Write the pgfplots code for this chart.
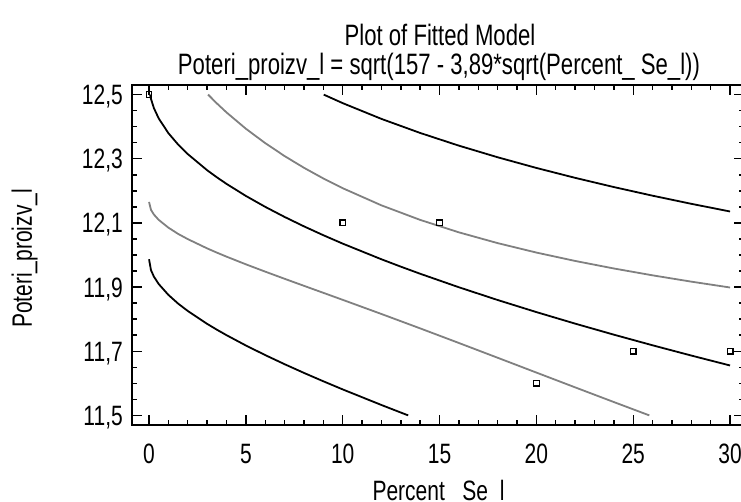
\documentclass[border=0pt]{standalone}
\usepackage{fontspec}
\setmainfont[FakeStretch=0.75]{Liberation Sans}
\usepackage{pgfplots}
\pgfplotsset{compat=1.18}
\definecolor{bandgray}{RGB}{128,128,128}
\newcommand{\lblfont}{\fontsize{28bp}{32bp}\selectfont}
\newcommand{\ttlfont}{\fontsize{29.5bp}{34bp}\selectfont}
\begin{document}
\begin{tikzpicture}
\begin{axis}[
  name=fit,
  scale only axis,
  width=612bp, height=340bp,
  xmin=-0.88, xmax=30.72, ymin=11.47, ymax=12.53,
  xtick={0,5,...,30},
  ytick={11.5,11.7,11.9,12.1,12.3,12.5},
  minor x tick num=4, minor y tick num=3,
  tick align=inside,
  major tick length=10bp, minor tick length=5bp,
  tick style={black, line width=1.4bp},
  axis line style={line width=2.2bp},
  ticklabel style={font=\lblfont, inner sep=0pt},
  /pgf/number format/assume math mode=true,
  yticklabel style={/pgf/number format/fixed, /pgf/number format/fixed zerofill,
    /pgf/number format/precision=1, /pgf/number format/use comma,
    anchor=base east, xshift=-9bp, yshift=-10bp},
  xticklabel style={anchor=base, yshift=-38bp},
]
% fitted model
\addplot[black, line width=1.8bp] coordinates {
(0.053,12.5) (0.1,12.48673) (0.25,12.45808) (0.5,12.42572) (1,12.37981)
(1.5,12.34447) (2,12.31459) (3,12.26432) (3.5,12.24230) (4,12.22177)
(5,12.18414) (6,12.15008) (7,12.11862) (8,12.08928) (9,12.06166)
(10,12.03547) (12,11.98662) (13,11.96366) (14,11.94152) (16,11.89939)
(18,11.85969) (20,11.82201) (22,11.78606) (24,11.75161) (26,11.71847)
(28,11.68650) (30,11.65555)};
% confidence limits
\addplot[bandgray, line width=1.8bp] coordinates {
(3.05,12.5) (3.5,12.47272) (4,12.44452) (5,12.39367) (6,12.34874)
(7,12.30838) (8,12.27187) (9,12.23863) (10,12.20824) (12,12.15478)
(14,12.10943) (16,12.07061) (18,12.03703) (20,12.00760) (22,11.98147)
(24,11.95796) (26,11.93658) (28,11.91692) (30,11.89866)};
\addplot[bandgray, line width=1.8bp] coordinates {
(0,12.16546) (0.1,12.14081) (0.25,12.12622) (0.5,12.10950) (1,12.08527)
(1.5,12.06583) (2,12.04954) (3,12.02061) (3.5,12.00746) (4,11.99489)
(5,11.97094) (6,11.94811) (7,11.92583) (8,11.90388) (9,11.88205)
(10,11.86019) (12,11.81607) (14,11.77122) (16,11.72566) (18,11.67965)
(20,11.63346) (22,11.58736) (24,11.54156) (25.83,11.5)};
% prediction limits
\addplot[black, line width=1.8bp] coordinates {
(9.02,12.5) (10,12.47343) (12,12.42430) (14,12.38047) (16,12.34086)
(18,12.30469) (20,12.27140) (22,12.24055) (24,12.21180) (26,12.18488)
(28,12.15956) (30,12.13565)};
\addplot[black, line width=1.8bp] coordinates {
(0,11.98666) (0.1,11.95285) (0.25,11.93266) (0.5,11.90941) (1,11.87555)
(1.5,11.84857) (2,11.82554) (3,11.78533) (3.5,11.76723) (4,11.75007)
(5,11.71789) (6,11.68794) (7,11.65954) (8,11.63240) (9,11.60627)
(10,11.58096) (12,11.53234) (13,11.50884) (13.38,11.5)};
% observations
\addplot[only marks, mark=square, mark size=2.8bp, mark options={black, fill=white, line width=1.3bp}]
  coordinates {(0,12.5) (10,12.1) (15,12.1) (20,11.6) (25,11.7) (30,11.7)};
\end{axis}
\node[font=\ttlfont, anchor=base, inner sep=0pt] at ([shift={(308bp,379bp)}]fit.south west) {Plot of Fitted Model};
\node[font=\ttlfont, anchor=base, inner sep=0pt] at ([shift={(307bp,350bp)}]fit.south west)
  {Poteri\_proizv\_l = sqrt(157 - 3,89*sqrt(Percent\_ Se\_l))};
\node[font=\lblfont, anchor=base] at ([shift={(306.5bp,-75bp)}]fit.south west) {Percent\_ Se\_l};
\node[font=\lblfont, anchor=base, rotate=90] at ([shift={(-100bp,166.5bp)}]fit.south west) {Poteri\_proizv\_l};
\pgfresetboundingbox
\path[use as bounding box] ([shift={(-132bp,-77bp)}]fit.south west) rectangle ++(741bp,502bp);
\end{tikzpicture}
\end{document}
